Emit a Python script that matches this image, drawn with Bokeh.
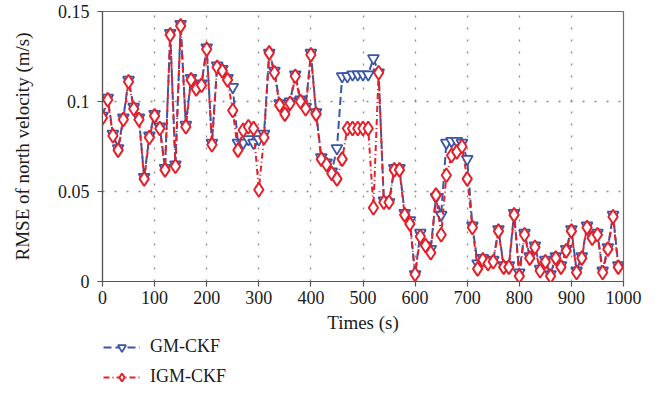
from bokeh.plotting import figure
from bokeh.models import Legend, LegendItem, FixedTicker, Range1d
from bokeh.layouts import column
from bokeh.embed import file_html
from bokeh.resources import INLINE

times = list(range(0, 1000, 10))

igm_ckf = [0.091, 0.101, 0.081, 0.073, 0.090, 0.111, 0.096, 0.090, 0.057, 0.080,
           0.092, 0.085, 0.062, 0.137, 0.064, 0.142, 0.086, 0.112, 0.107, 0.109,
           0.129, 0.076, 0.119, 0.117, 0.112, 0.095, 0.073, 0.084, 0.086, 0.085,
           0.051, 0.080, 0.127, 0.116, 0.098, 0.093, 0.099, 0.114, 0.100, 0.096,
           0.126, 0.093, 0.068, 0.065, 0.060, 0.057, 0.068, 0.085, 0.085, 0.085,
           0.085, 0.085, 0.041, 0.116, 0.044, 0.044, 0.062, 0.062, 0.037, 0.032,
           0.004, 0.025, 0.020, 0.016, 0.048, 0.026, 0.059, 0.070, 0.072, 0.075,
           0.057, 0.030, 0.007, 0.012, 0.010, 0.011, 0.028, 0.008, 0.008, 0.037,
           0.003, 0.026, 0.013, 0.019, 0.006, 0.011, 0.003, 0.013, 0.008, 0.017,
           0.028, 0.005, 0.013, 0.030, 0.024, 0.026, 0.005, 0.018, 0.036, 0.008]

gm_ckf = [0.092, 0.102, 0.082, 0.074, 0.091, 0.112, 0.097, 0.091, 0.058, 0.081,
          0.093, 0.086, 0.063, 0.138, 0.065, 0.143, 0.087, 0.113, 0.108, 0.110,
          0.130, 0.077, 0.120, 0.118, 0.113, 0.108, 0.077, 0.077, 0.079, 0.077,
          0.079, 0.082, 0.127, 0.117, 0.099, 0.094, 0.100, 0.115, 0.101, 0.097,
          0.127, 0.094, 0.069, 0.066, 0.061, 0.074, 0.114, 0.114, 0.115, 0.115,
          0.115, 0.115, 0.124, 0.116, 0.045, 0.044, 0.063, 0.063, 0.038, 0.034,
          0.004, 0.027, 0.020, 0.018, 0.047, 0.037, 0.077, 0.078, 0.078, 0.077,
          0.068, 0.031, 0.010, 0.013, 0.011, 0.012, 0.029, 0.009, 0.009, 0.038,
          0.005, 0.027, 0.014, 0.020, 0.007, 0.012, 0.004, 0.014, 0.009, 0.018,
          0.029, 0.006, 0.014, 0.031, 0.025, 0.027, 0.006, 0.019, 0.037, 0.009]

series_labels = ["GM-CKF", "IGM-CKF"]
x_ticks = [0, 100, 200, 300, 400, 500, 600, 700, 800, 900, 1000]
y_ticks = [0, 0.05, 0.1, 0.15]
y_tick_labels = ["0", "0.05", "0.1", "0.15"]

BLUE = "#3a56a6"
RED = "#e5202a"
FONT = "Liberation Serif"

p = figure(width=660, height=335, output_backend="svg", toolbar_location=None,
           x_range=Range1d(0, 1000), y_range=Range1d(0, 0.15),
           min_border_left=102, min_border_right=37, min_border_top=11,
           min_border_bottom=54)

p.background_fill_color = "white"
p.border_fill_color = "white"
p.outline_line_color = "#6f6f6f"
p.outline_line_width = 1.2

p.xaxis.ticker = FixedTicker(ticks=x_ticks)
p.yaxis.ticker = FixedTicker(ticks=y_ticks)
p.yaxis.major_label_overrides = {t: l for t, l in zip(y_ticks, y_tick_labels)}

for ax in (p.xaxis[0], p.yaxis[0]):
    ax.axis_line_color = "#555555"
    ax.axis_line_width = 1.2
    ax.major_tick_line_color = "#555555"
    ax.major_tick_line_width = 1.2
    ax.major_tick_out = 5
    ax.major_tick_in = 0
    ax.minor_tick_out = 0
    ax.minor_tick_in = 0
    ax.major_label_text_font = FONT
    ax.major_label_text_font_size = "18px"
    ax.major_label_text_color = "#1a1a1a"
    ax.axis_label_text_font = FONT
    ax.axis_label_text_font_size = "19px"
    ax.axis_label_text_font_style = "normal"
    ax.axis_label_text_color = "#1a1a1a"

p.xaxis.axis_label = "Times (s)"
p.yaxis.axis_label = "RMSE of north velocity (m/s)"
p.xaxis.major_label_standoff = 4
p.xaxis.axis_label_standoff = 5
p.yaxis.major_label_standoff = 8
p.yaxis.axis_label_standoff = 22

p.xgrid.ticker = FixedTicker(ticks=x_ticks)
p.ygrid.ticker = FixedTicker(ticks=y_ticks)
for g in (p.xgrid[0], p.ygrid[0]):
    g.grid_line_color = "#8a8a8a"
    g.grid_line_width = 1.3
    g.grid_line_dash = "2 10"

gm_style = dict(line_color=BLUE, line_width=2, line_dash="8 4")
gm_mk = dict(marker="inverted_triangle", size=11, line_color=BLUE, line_width=1.8,
             fill_color="white")
igm_style = dict(line_color=RED, line_width=2, line_dash="6 3 1 3")
igm_mk = dict(marker="diamond", size=14, line_color=RED, line_width=2,
              fill_color="white")

p.line(times, gm_ckf, **gm_style)
p.scatter(times, gm_ckf, **gm_mk)
p.line(times, igm_ckf, **igm_style)
p.scatter(times, igm_ckf, **igm_mk)

# legend strip below the chart: same series, ranges chosen so no data is in view
q = figure(width=660, height=84, output_backend="svg", toolbar_location=None,
           x_axis_type=None, y_axis_type=None, min_border=0,
           x_range=Range1d(-2, -1), y_range=Range1d(0, 1))
q.outline_line_color = None
q.xgrid.visible = False
q.ygrid.visible = False
q.background_fill_color = "white"
q.border_fill_color = "white"

l1 = q.line(times, gm_ckf, **gm_style)
m1 = q.scatter(times, gm_ckf, **gm_mk)
l2 = q.line(times, igm_ckf, **igm_style)
m2 = q.scatter(times, igm_ckf, **igm_mk)

legend = Legend(items=[LegendItem(label=series_labels[0], renderers=[l1, m1]),
                       LegendItem(label=series_labels[1], renderers=[l2, m2])],
                location=(1, 32), orientation="vertical")
legend.label_text_font = FONT
legend.label_text_font_size = "18px"
legend.label_text_color = "#1a1a1a"
legend.glyph_width = 37
legend.glyph_height = 20
legend.label_height = 20
legend.label_standoff = 10
legend.spacing = 9
legend.padding = 0
legend.margin = 0
legend.border_line_alpha = 0
legend.background_fill_alpha = 0
q.add_layout(legend)

layout = column(p, q, spacing=0)
open("out.html", "w").write(file_html(layout, INLINE))
